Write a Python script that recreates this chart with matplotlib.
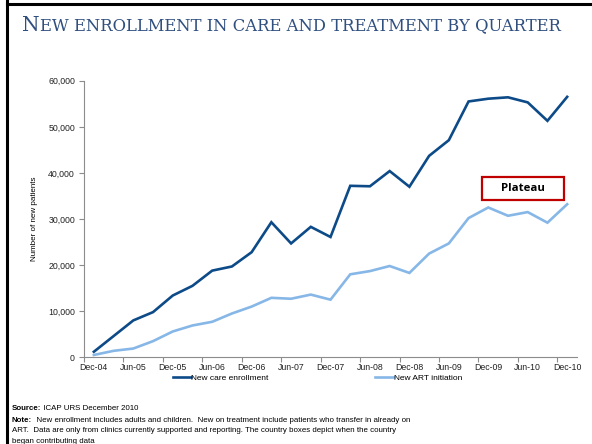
import matplotlib
matplotlib.use("Agg")
import matplotlib.pyplot as plt
from matplotlib.lines import Line2D
from matplotlib.patches import Rectangle
import numpy as np

# quarterly data, Dec-04 .. Dec-10
quarters = ["Dec-04", "Mar-05", "Jun-05", "Sep-05", "Dec-05", "Mar-06", "Jun-06", "Sep-06",
            "Dec-06", "Mar-07", "Jun-07", "Sep-07", "Dec-07", "Mar-08", "Jun-08", "Sep-08",
            "Dec-08", "Mar-09", "Jun-09", "Sep-09", "Dec-09", "Mar-10", "Jun-10", "Sep-10", "Dec-10"]
care_enrollment = [1200, 4600, 8000, 9800, 13400, 15500, 18800, 19700, 22800, 29300, 24700, 28300,
                   26100, 37200, 37100, 40400, 37000, 43700, 47100, 55500, 56100, 56400, 55300, 51300, 56500]
art_initiation = [500, 1400, 1900, 3500, 5600, 6900, 7700, 9500, 11000, 12900, 12700, 13600,
                  12500, 18000, 18700, 19800, 18300, 22500, 24700, 30200, 32500, 30700, 31500, 29200, 33200]
yticks = [0, 10000, 20000, 30000, 40000, 50000, 60000]

dark = "#0D4A88"
light = "#86B7E7"
axis_grey = "#8C8C8C"
title_col = "#2F4F7F"

fig = plt.figure(figsize=(5.92, 4.44), dpi=100)
fig.patch.set_facecolor("white")
ax = fig.add_axes([0.1419, 0.1953, 0.8328, 0.6229])

# slide frame (left + top black edges)
fig.add_artist(Line2D([0.0115, 0.0115], [0, 1], transform=fig.transFigure, color="black", lw=2.2))
fig.add_artist(Line2D([0.0115, 1], [0.9910, 0.9910], transform=fig.transFigure, color="black", lw=2.2))

# title in small caps: big N followed by smaller caps
t1 = fig.text(0.037, 0.931, "N", family="DejaVu Serif", fontsize=14.5, color=title_col)
ax.annotate("EW ENROLLMENT IN CARE AND TREATMENT BY QUARTER", xy=(1, 0), xycoords=t1,
            family="DejaVu Serif", fontsize=11.8, color=title_col, va="bottom", annotation_clip=False)

x = np.arange(len(quarters))
ax.plot(x, care_enrollment, color=dark, lw=1.9, solid_joinstyle="miter")
ax.plot(x, art_initiation, color=light, lw=1.9, solid_joinstyle="miter")

ax.set_xlim(-0.5, len(quarters) - 0.5)
ax.set_ylim(0, 60000)
ax.set_xticks(x[::2])
ax.set_xticklabels(quarters[::2])
ax.set_xticks(np.arange(-0.5, len(quarters) - 0.5, 2), minor=True)
ax.tick_params(axis="x", which="major", length=0, pad=4, labelsize=6.3, labelcolor="#222222")
ax.tick_params(axis="x", which="minor", length=3.5, color=axis_grey, width=0.8)
ax.set_yticks(yticks)
ax.set_yticklabels([f"{v:,}" for v in yticks])
ax.tick_params(axis="y", length=3.5, color=axis_grey, width=0.8, labelsize=6.3, labelcolor="#222222", pad=3)
for lab in ax.get_xticklabels() + ax.get_yticklabels():
    lab.set_family("Liberation Sans")
for s in ["top", "right"]:
    ax.spines[s].set_visible(False)
for s in ["left", "bottom"]:
    ax.spines[s].set_color(axis_grey)
    ax.spines[s].set_linewidth(0.8)
ax.set_ylabel("Number of new patients", family="Liberation Sans", fontsize=5.8, labelpad=7)

# legend under the axis
handles = [Line2D([], [], color=dark, lw=1.9), Line2D([], [], color=light, lw=1.9)]
ax.legend(handles, ["New care enrollment", "New ART initiation"], loc="upper left",
          bbox_to_anchor=(0.165, -0.035), ncol=2, frameon=False, columnspacing=12.8,
          handlelength=2.2, handletextpad=0.0, prop={"family": "Liberation Sans", "size": 6.0})

# "Plateau" callout
ax.add_patch(Rectangle((19.67, 34100), 4.17, 5100, facecolor="white", edgecolor="#C00000",
                       lw=1.6, zorder=5))
ax.text(21.75, 36650, "Plateau", ha="center", va="center", family="Open Sans",
        fontweight="bold", fontsize=8.2, color="black", zorder=6)

# footnotes
foot = {"family": "Liberation Sans", "fontsize": 5.7, "color": "black"}
s1 = fig.text(0.02, 0.077, "Source:", fontweight="bold", **foot)
ax.annotate(" ICAP URS December 2010", xy=(1, 0), xycoords=s1, va="bottom",
            annotation_clip=False, **foot)
n1 = fig.text(0.02, 0.050, "Note:", fontweight="bold", **foot)
ax.annotate("  New enrollment includes adults and children.  New on treatment include patients who transfer in already on",
            xy=(1, 0), xycoords=n1, va="bottom", annotation_clip=False, **foot)
fig.text(0.02, 0.026, "ART.  Data are only from clinics currently supported and reporting. The country boxes depict when the country", **foot)
fig.text(0.02, 0.003, "began contributing data", **foot)

fig.savefig("out.png", dpi=100)
